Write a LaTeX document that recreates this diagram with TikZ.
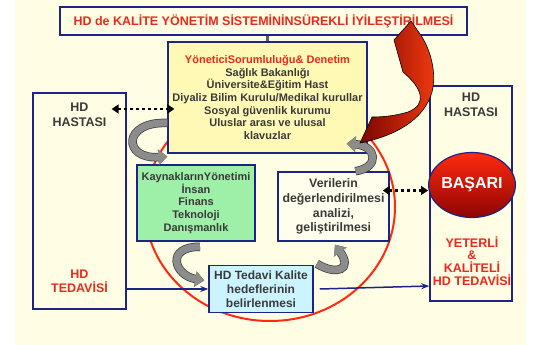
\documentclass[tikz,border=0pt]{standalone}
\usepackage{fontspec}
\setmainfont{Liberation Sans}
\usetikzlibrary{shapes.geometric,arrows.meta}
\definecolor{cream}{HTML}{FFFDE3}
\definecolor{navy}{HTML}{1C2585}
\definecolor{lightyel}{HTML}{FFF9B5}
\definecolor{mint}{HTML}{9EEFA8}
\definecolor{ice}{HTML}{CCF4FF}
\definecolor{verfill}{HTML}{FFFDEB}
\definecolor{txtred}{HTML}{E82A1E}
\definecolor{txtgray}{HTML}{3A3A3A}
\definecolor{ringred}{HTML}{FF2A10}
\definecolor{arrowdark}{HTML}{7A0500}
\definecolor{arrowred}{HTML}{F23A10}
\definecolor{turngray}{HTML}{8C8C8C}
\begin{document}
\begin{tikzpicture}[x=1pt,y=-1pt,
    box/.style={draw=navy, line width=1.5pt, align=center, inner sep=0pt, text=txtgray},
    lbl/.style={align=center, inner sep=0pt, text=txtgray, font=\fontsize{12.5}{15}\selectfont\bfseries},
    redlbl/.style={align=center, inner sep=0pt, text=txtred, font=\fontsize{12.5}{14}\selectfont\bfseries},
    dotarrow/.style={line width=2.5pt, dash pattern=on 3pt off 3pt, {Triangle[length=7pt,width=9pt]}-{Triangle[length=7pt,width=9pt]}},
    bluearrow/.style={draw=navy, line width=1.5pt, -{Stealth[length=8pt,width=6pt]}},
    turn/.style={draw=turngray, line width=7pt, -{Triangle[length=9pt,width=15pt]},
        preaction={draw=black!75, line width=8.5pt, -{Triangle[length=9pt,width=15pt]}}}]
    \useasboundingbox (0,0) rectangle (541,345);
    \fill[cream] (15,0) rectangle (526,345);

    \node[draw=ringred, line width=2pt, ellipse, minimum width=250pt, minimum height=228pt, inner sep=0pt] (ring) at (270,207) {};

    \node[box, line width=2.5pt, fill=cream, minimum width=407pt, minimum height=28pt, text=txtred, font=\fontsize{12.5}{14}\selectfont\bfseries] (title) at (263.5,21) {HD de KALİTE YÖNETİM SİSTEMİNİNSÜREKLİ İYİLEŞTİRİLMESİ};
    \node[box, line width=1.2pt, fill=lightyel, minimum width=199pt, minimum height=111pt, font=\fontsize{11}{12.6}\selectfont\bfseries] (yon) at (267.5,97.5) {\textcolor{txtred}{YöneticiSorumluluğu\& Denetim}\\Sağlık Bakanlığı\\Üniversite\&Eğitim Hast\\Diyaliz Bilim Kurulu/Medikal kurullar\\Sosyal güvenlik kurumu\\Uluslar arası ve ulusal\\klavuzlar};
    \node[box, fill=cream, minimum width=93pt, minimum height=216pt] (hasta) at (79.5,201) {};
    \node[lbl] (hastaL) at (79.5,114.5) {HD\\HASTASI};
    \node[redlbl] (tedaviL) at (79.5,281) {HD\\TEDAVİSİ};
    \node[box, fill=mint, minimum width=118pt, minimum height=76pt, font=\fontsize{11}{12.7}\selectfont\bfseries] (kay) at (196,203) {KaynaklarınYönetimi\\İnsan\\Finans\\Teknoloji\\Danışmanlık};
    \node[box, fill=verfill, minimum width=111pt, minimum height=69pt, font=\fontsize{12.3}{14.7}\selectfont\bfseries] (ver) at (333.5,206.5) {Verilerin\\değerlendirilmesi\\analizi,\\geliştirilmesi};
    \node[box, fill=ice, minimum width=104pt, minimum height=47pt, font=\fontsize{12}{14}\selectfont\bfseries] (ted) at (261,289) {HD Tedavi Kalite\\hedeflerinin\\belirlenmesi};
    \node[box, fill=cream, minimum width=82pt, minimum height=215pt] (sag) at (471,193.5) {};
    \node[lbl] (sagL) at (471,105) {HD\\HASTASI};
    \node[ellipse, draw=navy, line width=1.2pt, top color=ringred, bottom color=arrowdark!85!red, minimum width=82pt, minimum height=65pt, inner sep=0pt, text=white, font=\fontsize{16}{18}\selectfont\bfseries] (basari) at (472,185) {BAŞARI};
    \node[redlbl, font=\fontsize{12.5}{12.8}\selectfont\bfseries] (yeter) at (472,261) {YETERLİ\\\&\\KALİTELİ\\HD TEDAVİSİ};

    \draw[draw=navy!40!gray, line width=3pt] (yon.north |- title.south) -- (yon.north);

    \draw[turn] ([yshift=-25.5pt]yon.west) .. controls +(-45,-2) and +(-45,3) .. ([yshift=-3pt]yon.south west);
    \draw[turn] ([xshift=4pt,yshift=-5pt]kay.south) .. controls +(-35,0) and +(-30,-5) .. ([xshift=-4pt,yshift=8.5pt]ted.west);
    \draw[turn] ([xshift=3pt,yshift=1pt]ted.north east) .. controls +(20,12) and +(18,25) .. ([xshift=1.5pt,yshift=-3pt]ver.south);
    \draw[turn] ([xshift=22pt]ver.north) .. controls +(25,-4) and +(30,2) .. ([xshift=-21pt,yshift=10pt]yon.south east);

    \shade[draw=black, line width=0.6pt, left color=arrowdark, right color=arrowred]
        (360,143) .. controls (395,136) and (424,120) .. (432,92)
        .. controls (437,72) and (430,50) .. (422,37) -- (411,21) -- (394,40) -- (403,72)
        .. controls (422,88) and (428,104) .. (408,112)
        .. controls (395,116) and (382,117) .. (372,117) -- cycle;

    \coordinate (dl) at ([xshift=5pt,yshift=5.5pt]hastaL.east);
    \coordinate (dr) at ([yshift=-5.5pt]basari.west);
    \draw[dotarrow] (dl) -- ([xshift=7pt]yon.west |- dl);
    \draw[dotarrow] ([xshift=-7pt]ver.east |- dr) -- (dr);

    \draw[bluearrow] (hasta.east |- ted.west) -- (ted.west);
    \draw[bluearrow] ([xshift=6pt]ted.east) -- ([yshift=3pt]sag.west |- ted.east);
\end{tikzpicture}
\end{document}
